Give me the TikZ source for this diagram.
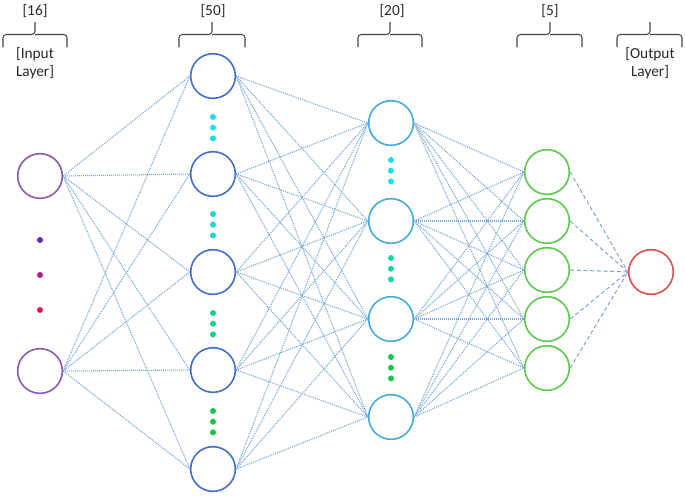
\documentclass[tikz,border=0pt]{standalone}
\usepackage{fontspec}
\setmainfont{Carlito}
\begin{document}
\begin{tikzpicture}[x=0.75pt,y=-0.75pt,
  neuron/.style={circle,draw,line width=1.2pt,minimum size=33.5pt,inner sep=0pt},
  l1/.style={neuron,draw=c1},
  l2/.style={neuron,draw=c2},
  l3/.style={neuron,draw=c3},
  l4/.style={neuron,draw=c4},
  l5/.style={neuron,draw=c5},
  link/.style={draw=linkc,line width=0.8pt,dash pattern=on 0.75pt off 0.75pt},
  dlink/.style={draw=dlinkc,line width=0.75pt,dash pattern=on 3pt off 2pt},
  dotn/.style={circle,inner sep=0pt,minimum size=4.5pt},
  bracepath/.style={draw=bracec,line width=0.8pt,rounded corners=2.5pt},
  lab/.style={font=\fontsize{11.5}{13.5}\selectfont,text=textc,align=center,inner sep=0pt}
]
\definecolor{c1}{RGB}{140,90,175}
\definecolor{c2}{RGB}{68,110,200}
\definecolor{c3}{RGB}{70,170,220}
\definecolor{c4}{RGB}{95,200,80}
\definecolor{c5}{RGB}{220,80,80}
\definecolor{linkc}{RGB}{115,165,215}
\definecolor{dlinkc}{RGB}{135,160,212}
\definecolor{bracec}{RGB}{70,70,70}
\definecolor{textc}{RGB}{40,40,40}
\useasboundingbox (0,0) rectangle (685,497);

% layer 1
\node[l1] (a1) at (40,176) {};
\node[l1] (a2) at (40,371) {};
% layer 2
\node[l2] (b1) at (213,76) {};
\node[l2] (b2) at (213,174) {};
\node[l2] (b3) at (213,272) {};
\node[l2] (b4) at (213,370) {};
\node[l2] (b5) at (213,469) {};
% layer 3
\node[l3] (c1) at (391,123) {};
\node[l3] (c2) at (391,221) {};
\node[l3] (c3) at (391,319) {};
\node[l3] (c4) at (391,417) {};
% layer 4
\node[l4] (d1) at (547,172) {};
\node[l4] (d2) at (547,221) {};
\node[l4] (d3) at (547,270) {};
\node[l4] (d4) at (547,319) {};
\node[l4] (d5) at (547,368) {};
% output
\node[l5] (e1) at (651,272) {};

% connections
\foreach \s in {a1,a2}
  \foreach \t in {b1,b2,b3,b4,b5}
    \path[link] (\s.east) -- (\t.west);
\foreach \s in {b1,b2,b3,b4,b5}
  \foreach \t in {c1,c2,c3,c4}
    \path[link] (\s.east) -- (\t.west);
\foreach \s in {c1,c2,c3,c4}
  \foreach \t in {d1,d2,d3,d4,d5}
    \path[link] (\s.east) -- (\t.west);
\foreach \s in {d1,d2,d3,d4,d5}
  \path[dlink] (\s.east) -- (e1.west);

% dots
\definecolor{p1}{RGB}{100,45,160}
\definecolor{p2}{RGB}{180,30,130}
\definecolor{p3}{RGB}{235,20,90}
\definecolor{k1}{RGB}{20,225,240}
\definecolor{k2}{RGB}{25,220,205}
\definecolor{k3}{RGB}{20,210,145}
\definecolor{k4}{RGB}{20,200,60}
\definecolor{m2}{RGB}{20,215,170}
\definecolor{m3}{RGB}{20,200,75}
\node[dotn,fill=p1] (pa) at (40,240) {};
\node[dotn,fill=p2] (pb) at (40,275) {};
\node[dotn,fill=p3] (pc) at (40,310) {};
\foreach \y/\c [count=\i] in {117/k1,214/k2,313/k3,411/k4}{
  \node[dotn,fill=\c] (bd\i a) at (213,\y) {};
  \node[dotn,fill=\c] (bd\i b) at (213,\y+10.7) {};
  \node[dotn,fill=\c] (bd\i c) at (213,\y+21.4) {};
}
\foreach \y/\c [count=\i] in {160/k1,258/m2,357/m3}{
  \node[dotn,fill=\c] (cd\i a) at (391,\y) {};
  \node[dotn,fill=\c] (cd\i b) at (391,\y+10.7) {};
  \node[dotn,fill=\c] (cd\i c) at (391,\y+21.4) {};
}

% braces
\foreach \xa/\xc/\xb in {3/35/67,179/212/245,358/390/422,517/550/582,617/650/682}{
  \path[bracepath] (\xa,47) -- (\xa,34.5) -- (\xc,34.5) -- (\xc,22);
  \path[bracepath] (\xb,47) -- (\xb,34.5) -- (\xc,34.5);
}

% labels
\node[lab] (t16) at (35,11) {[16]};
\node[lab] (t50) at (213,11) {[50]};
\node[lab] (t20) at (392,11) {[20]};
\node[lab] (t5) at (550,11) {[5]};
\node[lab] (tin) at (35,63) {[Input\\Layer]};
\node[lab] (tout) at (650,63) {[Output\\Layer]};
\end{tikzpicture}
\end{document}
